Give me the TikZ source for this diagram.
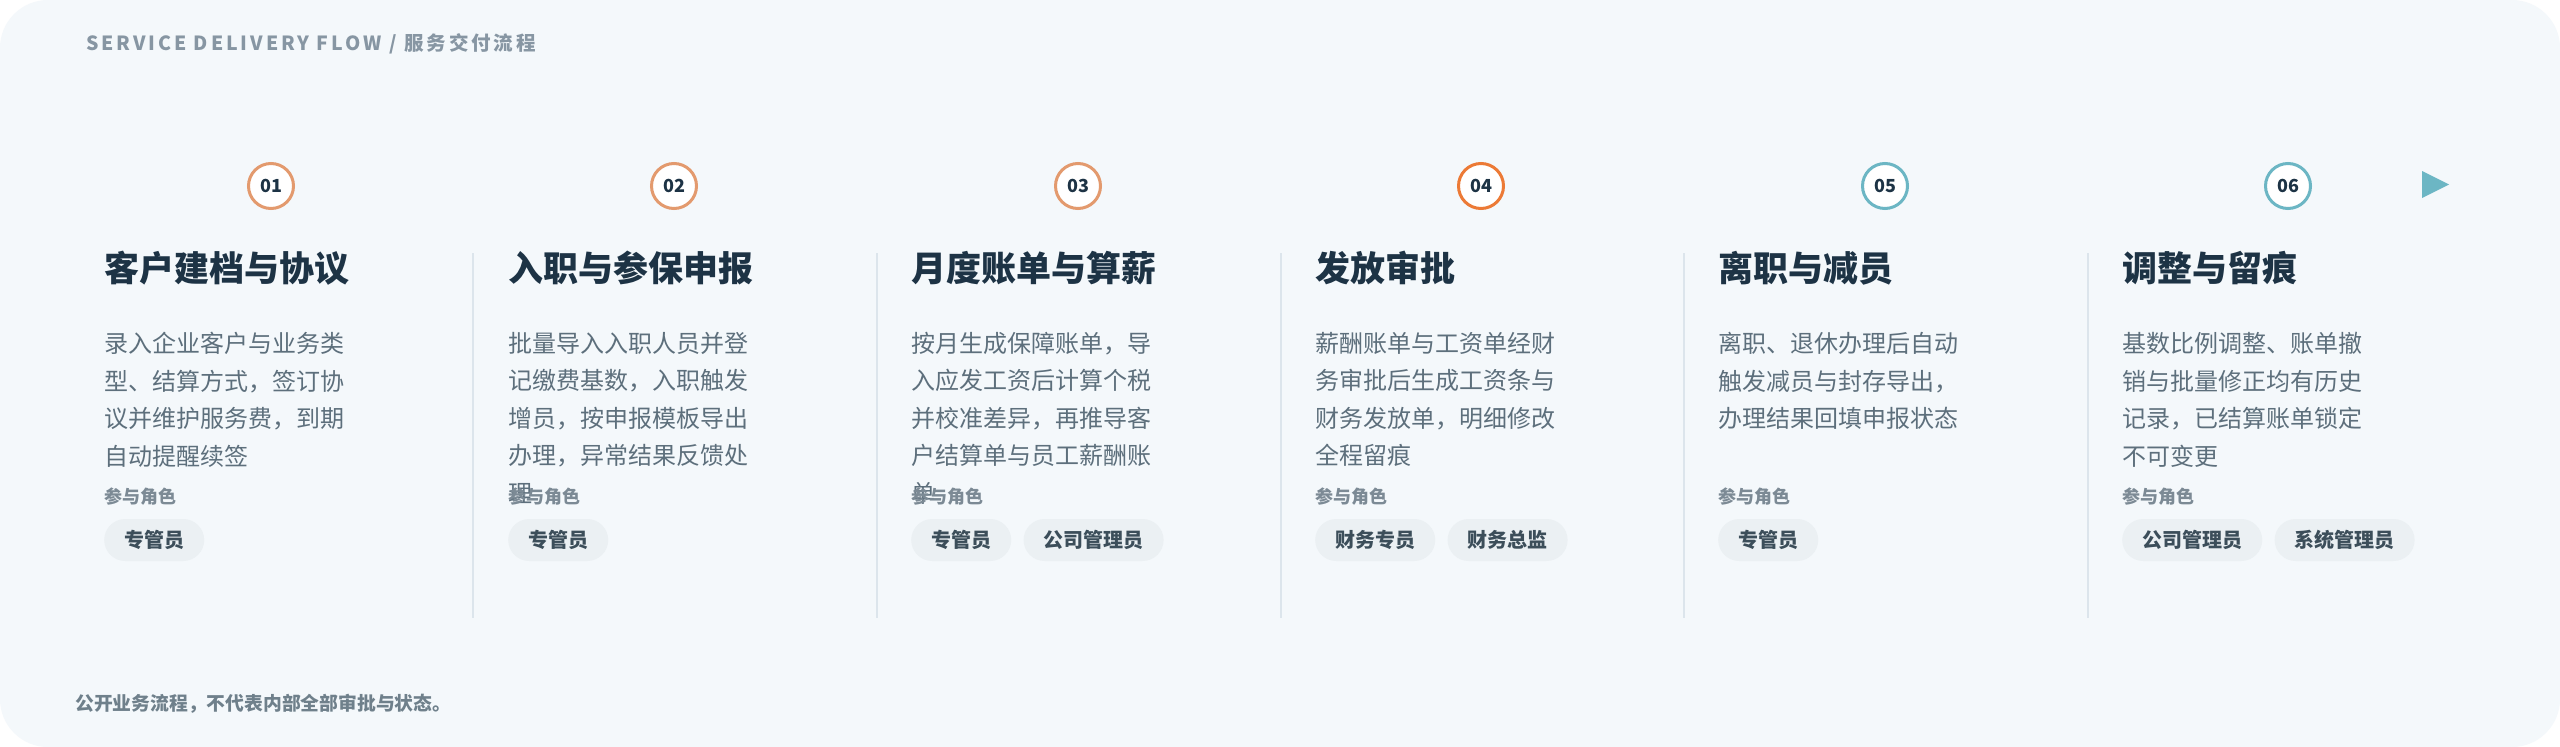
\documentclass[tikz,border=0pt]{standalone}
\usepackage{fontspec}
\setmainfont{Noto Sans CJK SC}
\newfontfamily\hdrfont[LetterSpace=15]{Noto Sans CJK SC}
\usetikzlibrary{positioning}

\definecolor{cardbg}{HTML}{F4F8FB}
\definecolor{hdrgray}{HTML}{8796A3}
\definecolor{titleink}{HTML}{1D3345}
\definecolor{bodyink}{HTML}{5D6F7C}
\definecolor{roleink}{HTML}{7C8A95}
\definecolor{pillfill}{HTML}{EBF0F3}
\definecolor{pillink}{HTML}{3C4E5A}
\definecolor{ringA}{HTML}{E39A6E}
\definecolor{ringB}{HTML}{EC7A36}
\definecolor{ringC}{HTML}{6CB6C4}
\definecolor{sepline}{HTML}{DCE5EC}
\definecolor{footink}{HTML}{6F808B}

\begin{document}
\begin{tikzpicture}[x=1pt, y=-1pt, node distance=12pt,
        ring/.style={circle, draw=#1, line width=3pt, fill=white, minimum size=45pt,
            inner sep=0pt, text=titleink, font=\fontsize{18}{18}\selectfont\bfseries},
        steptitle/.style={anchor=base west, inner sep=0pt, text=titleink,
            font=\fontsize{35}{35}\selectfont\bfseries},
        desc/.style={anchor=north west, inner sep=0pt, align=left, text=bodyink,
            font=\fontsize{24}{37.5}\selectfont},
        rolehead/.style={anchor=base west, inner sep=0pt, text=roleink,
            font=\fontsize{18}{18}\selectfont\bfseries},
        rolepill/.style={anchor=west, fill=pillfill, rounded corners=21pt, minimum height=42pt,
            inner xsep=20pt, inner ysep=0pt, text=pillink, font=\fontsize{20}{20}\selectfont\bfseries},
        sep/.style={draw=sepline, line width=1.5pt}]
        \useasboundingbox (0, 0) rectangle (2560, 747);
        \fill[white] (0, 0) rectangle (2560, 747);
        \fill[cardbg, rounded corners=48pt] (0, 0) rectangle (2560, 747);

        % header and footer
        \node[anchor=base west, inner sep=0pt, text=hdrgray, font=\hdrfont\fontsize{19.5}{19.5}\selectfont\bfseries]
            at (86, 50)(head){SERVICE DELIVERY FLOW / 服务交付流程};
        \node[anchor=base west, inner sep=0pt, text=footink, font=\fontsize{18.8}{18.8}\selectfont\bfseries]
            at (75, 710)(foot){公开业务流程，不代表内部全部审批与状态。};

        % step numbers
        \node[ring=ringA] at (271, 186)(c1){01};
        \node[ring=ringA] at (674, 186)(c2){02};
        \node[ring=ringA] at (1078, 186)(c3){03};
        \node[ring=ringB] at (1481, 186)(c4){04};
        \node[ring=ringC] at (1885, 186)(c5){05};
        \node[ring=ringC] at (2288, 186)(c6){06};
        \fill[ringC] (2422, 171) -- (2422, 198) -- (2449, 184.5) -- cycle;

        % separators
        \coordinate (s2a) at (473, 253); \coordinate (s2b) at (473, 618);
        \coordinate (s3a) at (877, 253); \coordinate (s3b) at (877, 618);
        \coordinate (s4a) at (1281, 253); \coordinate (s4b) at (1281, 618);
        \coordinate (s5a) at (1684, 253); \coordinate (s5b) at (1684, 618);
        \coordinate (s6a) at (2088, 253); \coordinate (s6b) at (2088, 618);
        \path[sep] (s2a) -- (s2b) (s3a) -- (s3b) (s4a) -- (s4b) (s5a) -- (s5b) (s6a) -- (s6b);

        % titles
        \node[steptitle] at (104, 281)(t1){客户建档与协议};
        \node[steptitle] at (508, 281)(t2){入职与参保申报};
        \node[steptitle] at (911, 281)(t3){月度账单与算薪};
        \node[steptitle] at (1315, 281)(t4){发放审批};
        \node[steptitle] at (1718, 281)(t5){离职与减员};
        \node[steptitle] at (2122, 281)(t6){调整与留痕};

        % descriptions
        \node[desc] at (104, 332)(d1){录入企业客户与业务类\\型、结算方式，签订协\\议并维护服务费，到期\\自动提醒续签};
        \node[desc] at (508, 332)(d2){批量导入入职人员并登\\记缴费基数，入职触发\\增员，按申报模板导出\\办理，异常结果反馈处\\理};
        \node[desc] at (911, 332)(d3){按月生成保障账单，导\\入应发工资后计算个税\\并校准差异，再推导客\\户结算单与员工薪酬账\\单};
        \node[desc] at (1315, 332)(d4){薪酬账单与工资单经财\\务审批后生成工资条与\\财务发放单，明细修改\\全程留痕};
        \node[desc] at (1718, 332)(d5){离职、退休办理后自动\\触发减员与封存导出，\\办理结果回填申报状态};
        \node[desc] at (2122, 332)(d6){基数比例调整、账单撤\\销与批量修正均有历史\\记录，已结算账单锁定\\不可变更};

        % roles
        \node[rolehead] at (104, 503)(r1){参与角色};
        \node[rolehead] at (508, 503)(r2){参与角色};
        \node[rolehead] at (911, 503)(r3){参与角色};
        \node[rolehead] at (1315, 503)(r4){参与角色};
        \node[rolehead] at (1718, 503)(r5){参与角色};
        \node[rolehead] at (2122, 503)(r6){参与角色};

        \node[rolepill] at (104, 540)(p1a){专管员};
        \node[rolepill] at (508, 540)(p2a){专管员};
        \node[rolepill] at (911, 540)(p3a){专管员};
        \node[rolepill, right=of p3a](p3b){公司管理员};
        \node[rolepill] at (1315, 540)(p4a){财务专员};
        \node[rolepill, right=of p4a](p4b){财务总监};
        \node[rolepill] at (1718, 540)(p5a){专管员};
        \node[rolepill] at (2122, 540)(p6a){公司管理员};
        \node[rolepill, right=of p6a](p6b){系统管理员};
    \end{tikzpicture}
\end{document}
